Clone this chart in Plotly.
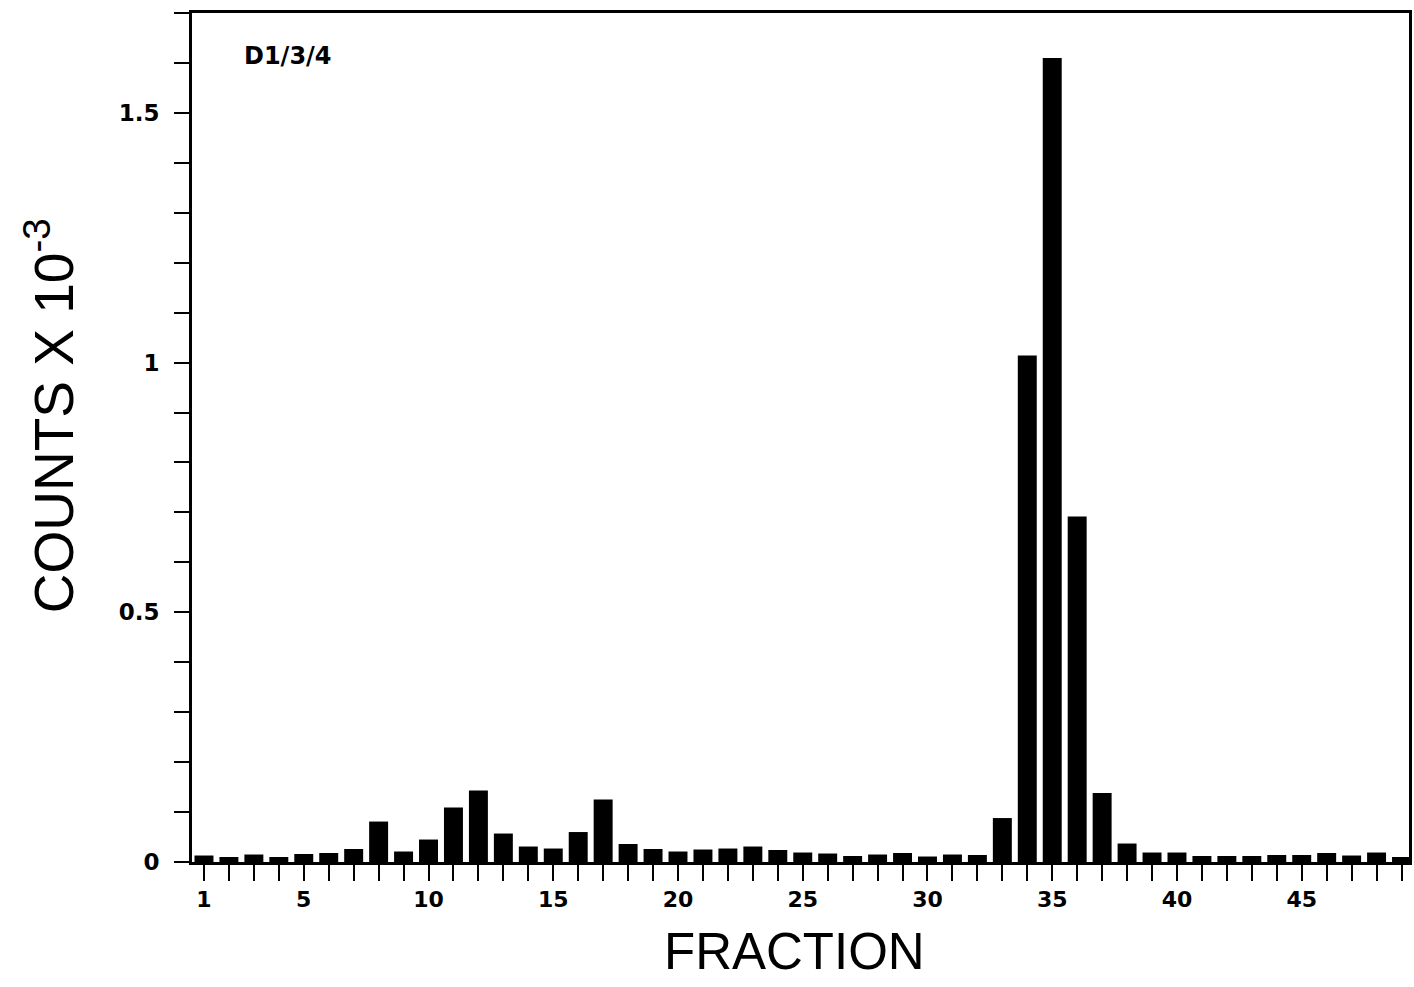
import plotly.graph_objects as go

fractions = list(range(1, 50))
counts = [0.013, 0.010, 0.015, 0.010, 0.016, 0.018, 0.026, 0.081, 0.021, 0.045,
          0.109, 0.143, 0.057, 0.031, 0.027, 0.060, 0.125, 0.036, 0.026, 0.021,
          0.025, 0.027, 0.031, 0.024, 0.019, 0.017, 0.012, 0.015, 0.018, 0.011,
          0.015, 0.014, 0.088, 1.014, 1.610, 0.692, 0.138, 0.037, 0.019, 0.019,
          0.012, 0.012, 0.012, 0.014, 0.014, 0.018, 0.013, 0.019, 0.010]
x_tick_vals = [1, 5, 10, 15, 20, 25, 30, 35, 40, 45]
x_tick_text = ["1", "5", "10", "15", "20", "25", "30", "35", "40", "45"]
y_tick_vals = [0, 0.5, 1, 1.5]
y_tick_text = ["0", "0.5", "1", "1.5"]

FONT = "Liberation Sans, Arial, sans-serif"
TICKFONT = "DejaVu Sans, sans-serif"

fig = go.Figure()
fig.add_trace(go.Bar(x=fractions, y=counts, width=0.76,
                     marker=dict(color="black", line=dict(width=0))))

fig.update_layout(
    width=1414, height=987,
    margin=dict(l=192, r=2, t=13, b=125),
    plot_bgcolor="white", paper_bgcolor="white",
    showlegend=False,
    font=dict(family=FONT, color="black"),
)
fig.update_xaxes(
    range=[0.52, 49.3],
    tickvals=x_tick_vals,
    ticktext=["<b>%s</b>" % t for t in x_tick_text],
    ticks="outside", ticklen=16, tickwidth=2, tickcolor="black",
    minor=dict(dtick=1, tick0=0, ticks="outside", ticklen=16, tickwidth=2, tickcolor="black"),
    tickfont=dict(size=22, family=TICKFONT),
    showline=True, linewidth=3, linecolor="black", mirror=True,
    showgrid=False, zeroline=False,
)
fig.update_yaxes(
    range=[0, 1.7],
    tickvals=y_tick_vals,
    ticktext=["<b>%s</b>" % t for t in y_tick_text],
    ticks="outside", ticklen=15, tickwidth=2, tickcolor="black",
    minor=dict(dtick=0.1, tick0=0, ticks="outside", ticklen=15, tickwidth=2, tickcolor="black"),
    tickfont=dict(size=23, family=TICKFONT),
    ticklabelstandoff=10,
    showline=True, linewidth=3, linecolor="black", mirror=True,
    showgrid=False, zeroline=False,
)

fig.add_annotation(text="FRACTION", xref="paper", yref="paper", x=0.495, y=-0.105,
                   xanchor="center", yanchor="middle", showarrow=False,
                   font=dict(size=51, family=FONT))
fig.add_annotation(text="COUNTS X 10<sup>-3</sup>", xref="paper", yref="paper",
                   x=-0.116, y=0.526, textangle=-90, xanchor="center", yanchor="middle",
                   showarrow=False, font=dict(size=55, family=FONT))
fig.add_annotation(text="<b>D1/3/4</b>", xref="paper", yref="paper", x=0.041, y=0.949,
                   xanchor="left", yanchor="middle", showarrow=False,
                   font=dict(size=24, family=TICKFONT))

fig.write_html("out.html", config={"displayModeBar": False},
               post_script="document.body.style.margin='0';document.body.style.overflow='hidden';")
